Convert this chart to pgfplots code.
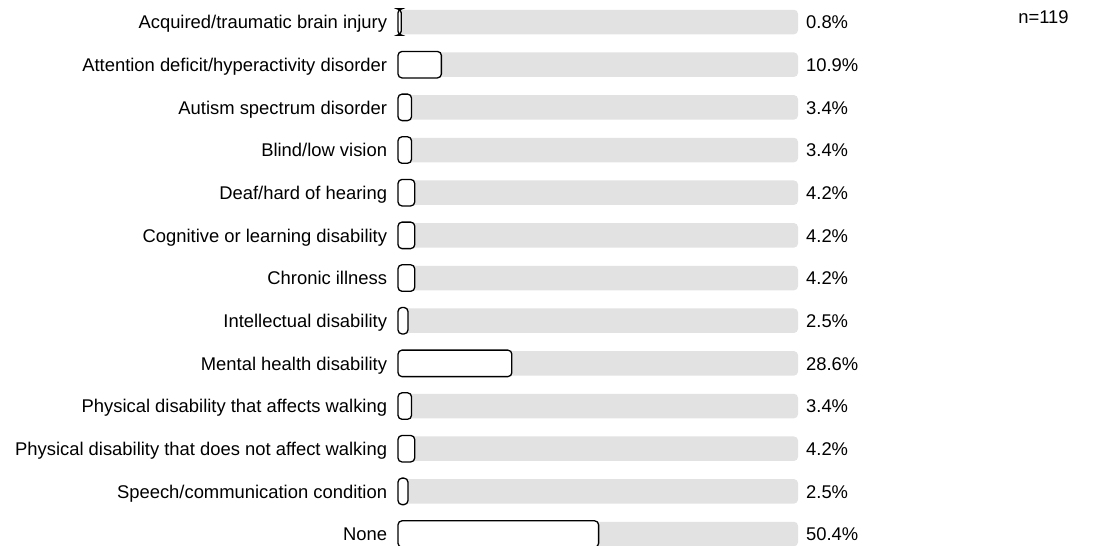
\documentclass[border=0pt]{standalone}
\usepackage{pgfplots}
\usepackage{pgfplotstable}
\pgfplotsset{compat=1.18}
\usepackage{fontspec}
\setmainfont{Liberation Sans}
\definecolor{trackgray}{RGB}{226,226,226}
\pgfplotstableread[col sep=comma]{
y,val,lab
0,0.8,Acquired/traumatic brain injury
1,10.9,Attention deficit/hyperactivity disorder
2,3.4,Autism spectrum disorder
3,3.4,Blind/low vision
4,4.2,Deaf/hard of hearing
5,4.2,Cognitive or learning disability
6,4.2,Chronic illness
7,2.5,Intellectual disability
8,28.6,Mental health disability
9,3.4,Physical disability that affects walking
10,4.2,Physical disability that does not affect walking
11,2.5,Speech/communication condition
12,50.4,None
}\datatable
\begin{document}
\begin{tikzpicture}
\fontsize{18.4bp}{22bp}\selectfont
\begin{axis}[
  scale only axis, width=1094bp, height=546bp,
  xmin=-100, xmax=174.87,
  ymin=-0.516, ymax=12.28, y dir=reverse,
  axis lines=none,
  every node near coord/.append style={font=\fontsize{18.4bp}{22bp}\selectfont, text=black},
]
% background tracks
\addplot[xbar, bar shift=0pt, bar width=24.5bp, draw=none, fill=trackgray, rounded corners=4bp]
  table[x expr=100.5, y=y]{\datatable};
% value bars
\addplot[xbar, bar shift=0pt, bar width=26.5bp, draw=black, line width=1.3bp, fill=white, rounded corners=4bp]
  table[x=val, y=y]{\datatable};
% percentage labels
\addplot[only marks, mark=none, point meta=explicit symbolic,
  nodes near coords={\pgfplotspointmeta\%},
  nodes near coords style={anchor=base west, inner sep=0pt, yshift=-6.8bp}]
  table[x expr=102.5, y=y, meta=val]{\datatable};
% category labels
\addplot[only marks, mark=none, point meta=explicit symbolic,
  nodes near coords={\pgfplotspointmeta},
  nodes near coords style={anchor=base east, inner sep=0pt, yshift=-6.8bp}]
  table[x expr=-2.7, y=y, meta=lab]{\datatable};
\node[anchor=base west, inner sep=0pt, yshift=-1bp, font=\fontsize{18.4bp}{22bp}\selectfont] at (axis cs:155.8,0) {n=119};
\end{axis}
\pgfresetboundingbox
\path[use as bounding box] (current axis.south west) rectangle (current axis.north east);
\end{tikzpicture}
\end{document}
